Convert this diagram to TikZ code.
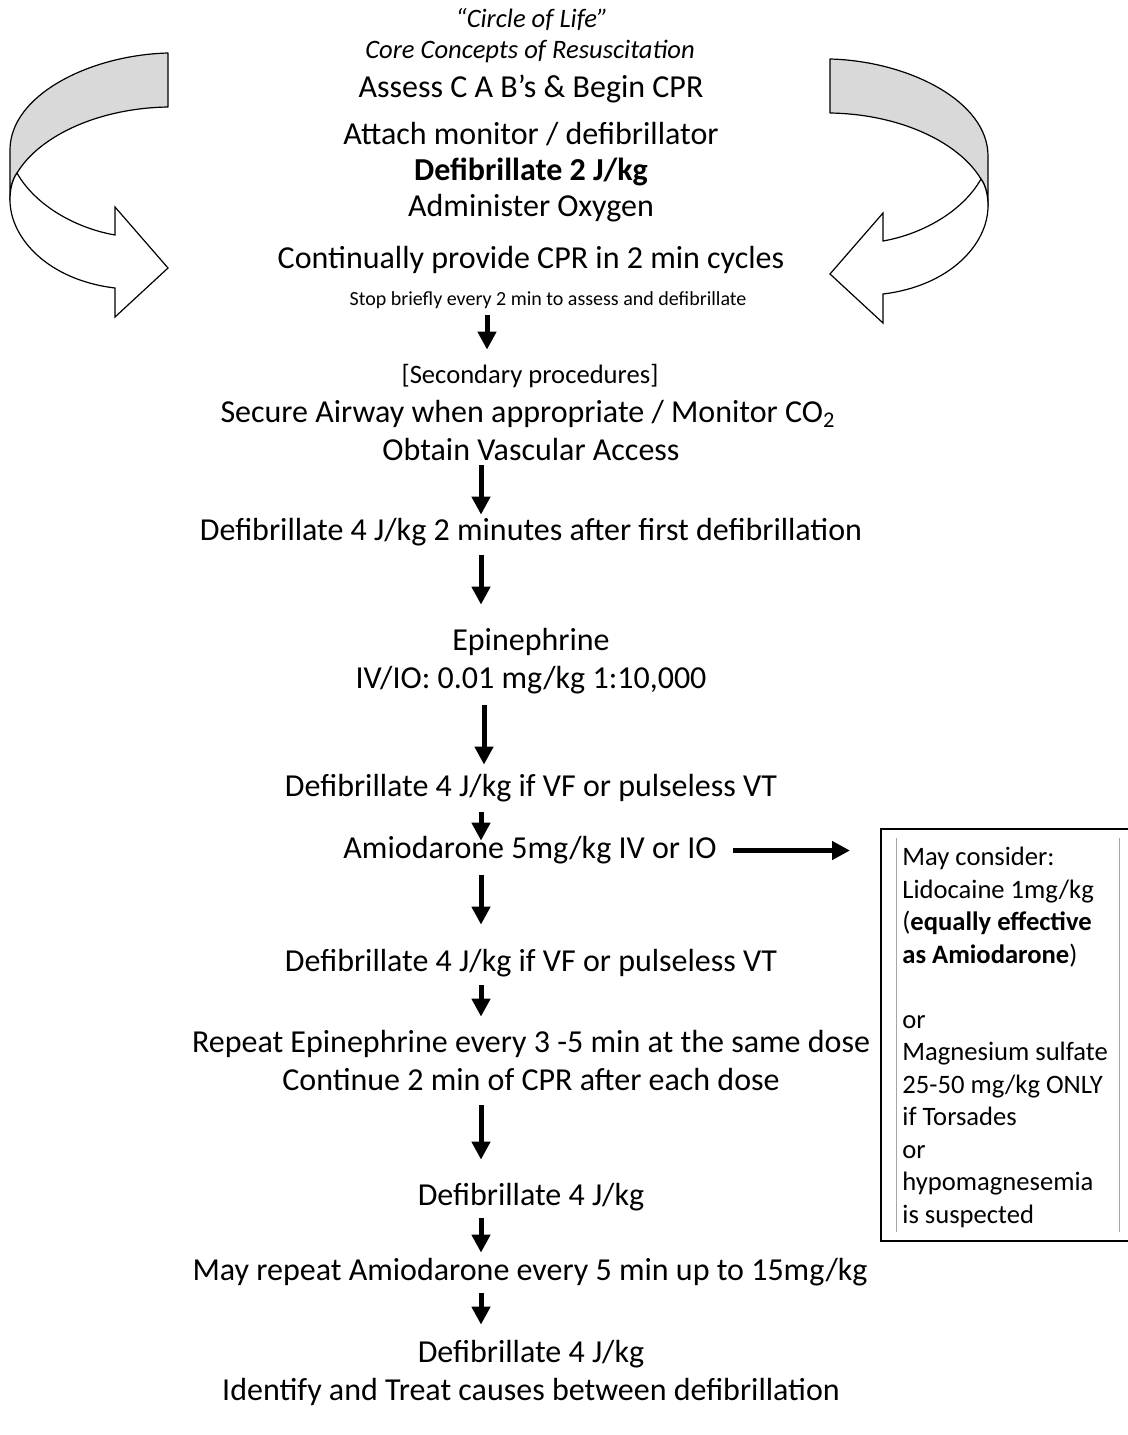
\documentclass[tikz,border=0pt]{standalone}
\usepackage{fontspec}
\setmainfont{Carlito}
\usetikzlibrary{arrows.meta}
\definecolor{bandgray}{RGB}{217,217,217}

\begin{document}
\begin{tikzpicture}[
    % GLOBAL CFG (one unit = one pixel of the sheet)
    x=0.5pt, y=-0.5pt,
    % Styles
    mainline/.style={% For the steps
        inner sep=0pt,
        anchor=base,
        text height=11pt,
        text depth=3.5pt,
        font=\fontsize{16}{18}\selectfont,
        },
    titleline/.style={% For the heading and secondary lines
        inner sep=0pt,
        anchor=base,
        text height=9.5pt,
        text depth=3pt,
        font=\fontsize{13.3}{16}\selectfont,
        },
    smallline/.style={% For the little note
        inner sep=0pt,
        anchor=base,
        text height=7pt,
        text depth=2.5pt,
        font=\fontsize{10}{12}\selectfont,
        },
    flow/.style={% Thick arrows
        line width=2.5pt,
        -{Triangle[width=9pt,length=9pt]},
        },
    optbox/.style={% The side box
        draw,
        line width=1pt,
        inner sep=0pt,
        anchor=north west,
        },
    cellline/.style={% thin table rules in the box
        draw=black!35,
        line width=0.4pt,
        },
    boxtext/.style={% base sits on the last line
        inner sep=0pt,
        anchor=base west,
        align=left,
        font=\fontsize{13.3}{16.25}\selectfont,
        },
    band/.style={% back of the curved arrows
        fill=bandgray,
        draw,
        line width=0.6pt,
        line join=round,
        },
    ribbon/.style={% front of the curved arrows
        fill=white,
        draw,
        line width=0.6pt,
        line join=miter,
        },
    ]
\useasboundingbox (0,0) rectangle (1128,1435);

% Curved arrows, the right one is the left one mirrored
\foreach \sx/\dx/\dy in {1/0/0, -1/998/6}{
  \begin{scope}[shift={(\dx,\dy)}, xscale=\sx]
    \draw[band] (168,53) .. controls (90,55) and (10,95) .. (10,150)
        -- (10,200) .. controls (10,190) and (12,180) .. (17,173)
        .. controls (40,135) and (100,108) .. (168,107) -- cycle;
    \draw[ribbon] (17,173) .. controls (35,205) and (75,228) .. (115,235)
        -- (115,207) -- (168,268) -- (115,317) -- (115,288)
        .. controls (48,280) and (10,238) .. (10,200)
        .. controls (10,190) and (12,180) .. (17,173) -- cycle;
  \end{scope}
}

% Circle of life
\node[titleline, font=\fontsize{13.3}{16}\selectfont\itshape] (t1) at (532,27) {“Circle of Life”};
\node[titleline, font=\fontsize{13.3}{16}\selectfont\itshape] (t2) at (530,58) {Core Concepts of Resuscitation};
\node[mainline] (t3) at (531,97) {Assess C A B’s \& Begin CPR};
\node[mainline] (t4) at (531,144) {Attach monitor / defibrillator};
\node[mainline, font=\fontsize{16}{18}\selectfont\bfseries] (t5) at (531,180) {Defibrillate 2 J/kg};
\node[mainline] (t6) at (531,216) {Administer Oxygen};
\node[mainline] (t7) at (531,268) {Continually provide CPR in 2 min cycles};
\node[smallline] (t8) at (548,305) {Stop briefly every 2 min to assess and defibrillate};

% Secondary
\node[titleline] (t9) at (530,383) {[Secondary procedures]};
\node[mainline] (t10) at (528,422) {Secure Airway when appropriate / Monitor CO\textsubscript{2}};
\node[mainline] (t11) at (531,460) {Obtain Vascular Access};

% Steps
\node[mainline] (t12) at (531,540) {Defibrillate 4 J/kg 2 minutes after first defibrillation};
\node[mainline] (t13) at (531,650) {Epinephrine};
\node[mainline] (t14) at (531,688) {IV/IO: 0.01 mg/kg 1:10,000};
\node[mainline] (t15) at (531,796) {Defibrillate 4 J/kg if VF or pulseless VT};
\node[mainline] (t16) at (530,858) {Amiodarone 5mg/kg IV or IO};
\node[mainline] (t17) at (531,971) {Defibrillate 4 J/kg if VF or pulseless VT};
\node[mainline] (t18) at (531,1052) {Repeat Epinephrine every 3 -5 min at the same dose};
\node[mainline] (t19) at (531,1090) {Continue 2 min of CPR after each dose};
\node[mainline] (t20) at (531,1205) {Defibrillate 4 J/kg};
\node[mainline] (t21) at (530,1280) {May repeat Amiodarone every 5 min up to 15mg/kg};
\node[mainline] (t22) at (531,1362) {Defibrillate 4 J/kg};
\node[mainline] (t23) at (531,1400) {Identify and Treat causes between defibrillation};

% Side box
\node[optbox, minimum width=140pt, minimum height=206pt] (opt) at (880,828) {};
\draw[cellline] ([shift={(8pt,-5pt)}]opt.north west) -- ([shift={(8pt,5pt)}]opt.south west);
\draw[cellline] ([shift={(119.5pt,-5pt)}]opt.north west) -- ([shift={(119.5pt,5pt)}]opt.south west);
\node[boxtext] (opttext) at (902,1223) {May consider:\\
    Lidocaine 1mg/kg\\
    (\textbf{equally effective}\\
    \textbf{as Amiodarone})\\
    \mbox{}\\
    or\\
    Magnesium sulfate\\
    25-50 mg/kg ONLY\\
    if Torsades\\
    or\\
    hypomagnesemia\\
    is suspected};

% Arrows
\coordinate (ax1) at (487,0);
\coordinate (ax) at (481,0);
\coordinate (ax4) at (484,0);
\draw[flow, shorten <=2.5pt, shorten >=7pt] (t8.south -| ax1) -- (t9.north -| ax1);
\draw[flow, shorten <=-1pt, shorten >=1.5pt] (t11.south -| ax) -- (t12.north -| ax);
\draw[flow, shorten <=4pt, shorten >=11.5pt] (t12.south -| ax) -- (t13.north -| ax);
\draw[flow, shorten <=5pt, shorten >=4.5pt] (t14.south -| ax4) -- (t15.north -| ax4);
\draw[flow, shorten <=4.5pt, shorten >=-2.5pt] (t15.south -| ax) -- (t16.north -| ax);
\draw[flow, shorten <=8pt, shorten >=15pt] (t16.east) -- (t16.east -| opt.west);
\draw[flow, shorten <=5pt, shorten >=12pt] (t16.south -| ax) -- (t17.north -| ax);
\draw[flow, shorten <=3.5pt, shorten >=6.5pt] (t17.south -| ax) -- (t18.north -| ax);
\draw[flow, shorten <=4pt, shorten >=11.5pt] (t19.south -| ax) -- (t20.north -| ax);
\draw[flow, shorten <=3pt, shorten >=2.5pt] (t20.south -| ax) -- (t21.north -| ax);
\draw[flow, shorten <=3pt, shorten >=7.5pt] (t21.south -| ax) -- (t22.north -| ax);
\end{tikzpicture}
\end{document}
